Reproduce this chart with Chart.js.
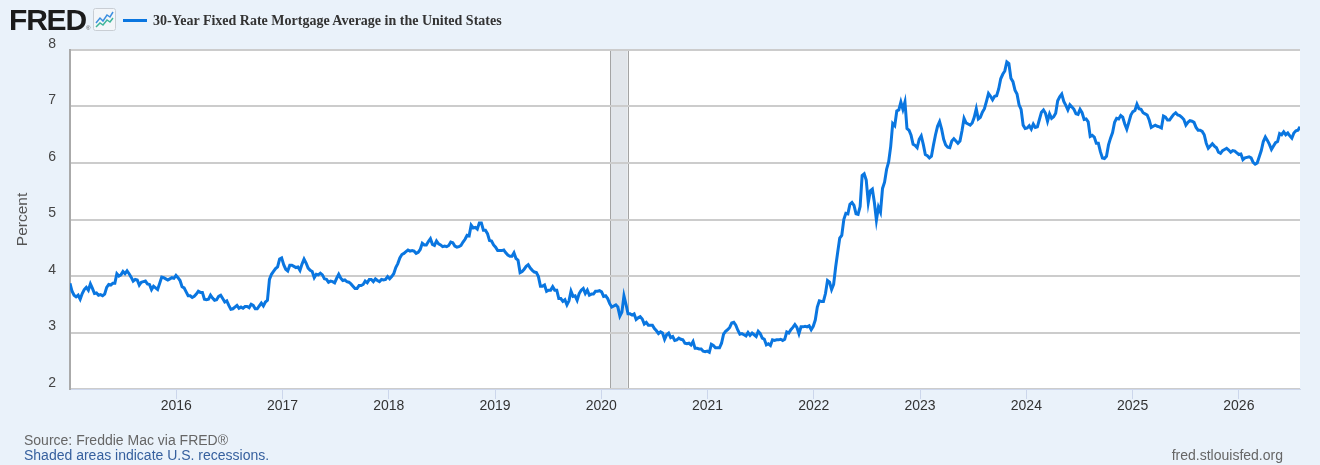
<!DOCTYPE html>
<html>
<head>
<meta charset="utf-8">
<title>30-Year Fixed Rate Mortgage Average in the United States</title>
<script src="https://cdn.jsdelivr.net/npm/chart.js@4.4.1/dist/chart.umd.min.js"></script>
<style>
  html, body { margin: 0; padding: 0; background: #eaf2fa; }
  body { width: 1320px; height: 465px; position: relative; overflow: hidden; font-family: "Liberation Sans", Arial, sans-serif; }
  #chart { position: absolute; left: 0; top: 0; }
  .logo { position: absolute; left: 9px; top: 5px; line-height: 30px; font-size: 30px; font-weight: bold; letter-spacing: -1.2px; color: #1b1b1b; }
  .logo sup { font-size: 6px; letter-spacing: 0; vertical-align: 0; font-weight: normal; color: #555; }
  .icon { position: absolute; left: 93px; top: 8px; }
  .swatch { position: absolute; left: 123px; top: 19px; width: 24px; height: 3px; background: #0a76e0; }
  .series { position: absolute; left: 153px; top: 13px; line-height: 16px; font-family: "Liberation Serif", "Times New Roman", serif; font-size: 14px; font-weight: bold; color: #333; }
  .note { position: absolute; left: 24px; line-height: 16px; font-size: 14px; color: #666; }
  .note.src { top: 432px; }
  .note.rec { top: 447px; color: #36609e; }
  .site { position: absolute; right: 37px; top: 447px; line-height: 16px; font-size: 14px; color: #666; }
</style>
</head>
<body>
<canvas id="chart" width="1320" height="465"></canvas>
<div class="logo">FRED<sup>®</sup></div>
<svg class="icon" width="23" height="23" viewBox="0 0 23 23">
  <rect x="0.5" y="0.5" width="22" height="22" rx="2" fill="#f3f6f9" stroke="#c9ced4"/>
  <polyline points="3,15 7,10 10,13 14,7 17,9 20,4" fill="none" stroke="#3d8fe0" stroke-width="1.5"/>
  <polyline points="3,19 7,15 10,17 14,12 17,14 20,10" fill="none" stroke="#3fb59a" stroke-width="1.5"/>
</svg>
<div class="swatch"></div>
<div class="series">30-Year Fixed Rate Mortgage Average in the United States</div>
<div class="note src">Source: Freddie Mac via FRED®</div>
<div class="note rec">Shaded areas indicate U.S. recessions.</div>
<div class="site">fred.stlouisfed.org</div>

<script>
// weekly readings, first Thursday of each year
const yearStarts = ['2015-01-01', '2016-01-07', '2017-01-05', '2018-01-04', '2019-01-03', '2020-01-02',
                    '2021-01-07', '2022-01-06', '2023-01-05', '2024-01-04', '2025-01-02', '2026-01-01'];

const rates2015 = [3.87, 3.73, 3.66, 3.63, 3.66, 3.59, 3.69, 3.76, 3.80, 3.75, 3.86, 3.78, 3.69,
  3.70, 3.66, 3.67, 3.65, 3.68, 3.80, 3.85, 3.84, 3.87, 3.87, 4.04, 4.00, 4.02,
  4.08, 4.04, 4.09, 4.04, 3.98, 3.91, 3.94, 3.93, 3.84, 3.89, 3.90, 3.91, 3.86,
  3.85, 3.76, 3.82, 3.79, 3.76, 3.87, 3.98, 3.97, 3.95, 3.93, 3.95, 3.97, 3.96, 4.01];
const rates2016 = [3.97, 3.92, 3.81, 3.79, 3.72, 3.65, 3.65, 3.62, 3.64, 3.68, 3.73, 3.71, 3.71,
  3.59, 3.58, 3.59, 3.66, 3.61, 3.57, 3.58, 3.64, 3.66, 3.60, 3.54, 3.56, 3.48,
  3.41, 3.42, 3.45, 3.48, 3.43, 3.45, 3.43, 3.46, 3.46, 3.44, 3.50, 3.48, 3.42,
  3.42, 3.47, 3.52, 3.47, 3.54, 3.57, 3.94, 4.03, 4.08, 4.13, 4.16, 4.30, 4.32];
const rates2017 = [4.20, 4.12, 4.09, 4.19, 4.19, 4.17, 4.15, 4.16, 4.10, 4.21, 4.30, 4.23, 4.14,
  4.10, 4.08, 3.97, 4.03, 4.02, 4.05, 4.02, 3.95, 3.94, 3.89, 3.91, 3.90, 3.88,
  3.96, 4.03, 3.96, 3.92, 3.93, 3.90, 3.89, 3.86, 3.82, 3.78, 3.78, 3.83, 3.83,
  3.85, 3.91, 3.88, 3.94, 3.94, 3.90, 3.95, 3.92, 3.90, 3.94, 3.93, 3.94, 3.99];
const rates2018 = [3.95, 3.99, 4.04, 4.15, 4.22, 4.32, 4.38, 4.40, 4.43, 4.46, 4.44, 4.45, 4.44,
  4.40, 4.42, 4.47, 4.58, 4.55, 4.55, 4.61, 4.66, 4.56, 4.54, 4.62, 4.57, 4.55,
  4.52, 4.53, 4.52, 4.54, 4.60, 4.59, 4.53, 4.51, 4.52, 4.54, 4.60, 4.65, 4.72,
  4.71, 4.90, 4.85, 4.86, 4.83, 4.94, 4.94, 4.81, 4.81, 4.75, 4.63, 4.62, 4.55];
const rates2019 = [4.51, 4.45, 4.45, 4.45, 4.46, 4.41, 4.37, 4.35, 4.35, 4.41, 4.31, 4.28, 4.06,
  4.08, 4.12, 4.17, 4.20, 4.14, 4.10, 4.07, 4.06, 3.99, 3.82, 3.82, 3.84, 3.73,
  3.75, 3.75, 3.81, 3.75, 3.75, 3.60, 3.60, 3.55, 3.58, 3.49, 3.56, 3.73, 3.64,
  3.65, 3.57, 3.69, 3.75, 3.78, 3.69, 3.75, 3.66, 3.68, 3.68, 3.73, 3.73, 3.74];
const rates2020 = [3.72, 3.64, 3.65, 3.60, 3.51, 3.45, 3.47, 3.49, 3.45, 3.29, 3.36, 3.65, 3.50,
  3.33, 3.33, 3.31, 3.33, 3.23, 3.26, 3.28, 3.24, 3.15, 3.18, 3.13, 3.13, 3.13,
  3.07, 3.03, 2.98, 3.01, 2.99, 2.88, 2.96, 2.99, 2.91, 2.93, 2.86, 2.87, 2.90,
  2.88, 2.87, 2.81, 2.80, 2.81, 2.78, 2.84, 2.72, 2.72, 2.71, 2.71, 2.67, 2.66, 2.67];
const rates2021 = [2.65, 2.79, 2.77, 2.73, 2.73, 2.73, 2.81, 2.97, 3.02, 3.05, 3.09, 3.17,
  3.18, 3.13, 3.04, 2.97, 2.98, 2.96, 2.94, 3.00, 2.95, 2.99, 2.96, 2.93, 3.02,
  2.98, 2.90, 2.88, 2.78, 2.80, 2.77, 2.87, 2.86, 2.87, 2.87, 2.88, 2.86, 2.88, 3.01,
  2.99, 3.05, 3.09, 3.14, 3.09, 2.98, 3.10, 3.10, 3.11, 3.10, 3.12, 3.05, 3.11];
const rates2022 = [3.22, 3.45, 3.56, 3.55, 3.55, 3.69, 3.92, 3.89, 3.76, 3.85, 4.16, 4.42, 4.67,
  4.72, 5.00, 5.11, 5.10, 5.27, 5.30, 5.25, 5.10, 5.09, 5.23, 5.78, 5.81, 5.70,
  5.30, 5.51, 5.54, 5.30, 4.99, 5.22, 5.13, 5.55, 5.66, 5.89, 6.02, 6.29, 6.70,
  6.66, 6.92, 6.94, 7.08, 6.95, 7.08, 6.61, 6.58, 6.49, 6.33, 6.31, 6.27, 6.42];
const rates2023 = [6.48, 6.33, 6.15, 6.13, 6.09, 6.12, 6.32, 6.50, 6.65, 6.73, 6.60, 6.42, 6.32,
  6.28, 6.27, 6.39, 6.43, 6.39, 6.35, 6.39, 6.57, 6.79, 6.71, 6.69, 6.67, 6.71,
  6.81, 6.96, 6.78, 6.81, 6.90, 6.96, 7.09, 7.23, 7.18, 7.12, 7.18, 7.19, 7.31,
  7.49, 7.57, 7.63, 7.79, 7.76, 7.50, 7.44, 7.29, 7.22, 7.03, 6.95, 6.67, 6.61];
const rates2024 = [6.62, 6.66, 6.60, 6.69, 6.63, 6.64, 6.77, 6.90, 6.94, 6.88, 6.74, 6.87, 6.79,
  6.82, 6.88, 7.10, 7.17, 7.22, 7.09, 7.02, 6.94, 7.03, 6.99, 6.95, 6.87, 6.86,
  6.95, 6.89, 6.77, 6.78, 6.73, 6.47, 6.49, 6.46, 6.35, 6.35, 6.20, 6.09, 6.08,
  6.12, 6.32, 6.44, 6.54, 6.72, 6.79, 6.78, 6.84, 6.81, 6.69, 6.60, 6.72, 6.85];
const rates2025 = [6.91, 6.93, 7.04, 6.96, 6.95, 6.89, 6.87, 6.85, 6.76, 6.63, 6.65, 6.67, 6.65,
  6.64, 6.62, 6.83, 6.81, 6.76, 6.76, 6.81, 6.86, 6.89, 6.85, 6.84, 6.81, 6.77,
  6.67, 6.72, 6.75, 6.74, 6.72, 6.63, 6.58, 6.58, 6.56, 6.50, 6.35, 6.26, 6.30,
  6.34, 6.30, 6.27, 6.19, 6.17, 6.22, 6.24, 6.26, 6.23, 6.19, 6.22, 6.21, 6.18];
const rates2026 = [6.15, 6.16, 6.06, 6.09, 6.10, 6.11, 6.09, 6.01, 5.98, 6.00, 6.11, 6.22, 6.38,
  6.46, 6.40, 6.33, 6.24, 6.30, 6.36, 6.38, 6.52, 6.50, 6.55, 6.50, 6.53, 6.48,
  6.44, 6.53, 6.57, 6.58, 6.64];

const yearRates = [rates2015, rates2016, rates2017, rates2018, rates2019, rates2020,
                   rates2021, rates2022, rates2023, rates2024, rates2025, rates2026];

const tickYears = [2016, 2017, 2018, 2019, 2020, 2021, 2022, 2023, 2024, 2025, 2026];
const yTicks = [2, 3, 4, 5, 6, 7, 8];
const recession = ['2020-02-01', '2020-04-01'];

const lineColor = '#0a76e0';
const DAY = 86400000;

// date -> fractional year, so the linear axis lines up with calendar years
function yearFraction(ms) {
    const d = new Date(ms);
    const y = d.getUTCFullYear();
    const a = Date.UTC(y, 0, 1), b = Date.UTC(y + 1, 0, 1);
    return y + (ms - a) / (b - a);
}

const points = [];
yearRates.forEach((rates, i) => {
    const start = Date.parse(yearStarts[i] + 'T00:00:00Z');
    rates.forEach((r, k) => points.push({ x: yearFraction(start + k * 7 * DAY), y: r }));
});

const xMin = 2015;
const xMax = points[points.length - 1].x;

// white plot area + recession band, under the grid
const backdrop = {
    id: 'backdrop',
    beforeDraw(chart) {
        const { ctx, chartArea: a, scales } = chart;
        ctx.save();
        ctx.fillStyle = '#ffffff';
        ctx.fillRect(a.left, a.top, a.right - a.left, a.bottom - a.top);
        const x0 = scales.x.getPixelForValue(yearFraction(Date.parse(recession[0] + 'T00:00:00Z')));
        const x1 = scales.x.getPixelForValue(yearFraction(Date.parse(recession[1] + 'T00:00:00Z')));
        ctx.fillStyle = '#e2e6eb';
        ctx.fillRect(x0, a.top, x1 - x0, a.bottom - a.top);
        ctx.strokeStyle = '#a4a4a4';
        ctx.lineWidth = 1;
        ctx.beginPath();
        ctx.moveTo(Math.round(x0) + 0.5, a.top); ctx.lineTo(Math.round(x0) + 0.5, a.bottom);
        ctx.moveTo(Math.round(x1) + 0.5, a.top); ctx.lineTo(Math.round(x1) + 0.5, a.bottom);
        ctx.stroke();
        ctx.restore();
    }
};

const font = { family: '"Liberation Sans", Arial, sans-serif', size: 14 };

new Chart(document.getElementById('chart').getContext('2d'), {
    type: 'line',
    data: {
        datasets: [{
            label: '30-Year Fixed Rate Mortgage Average in the United States',
            data: points,
            borderColor: lineColor,
            borderWidth: 3,
            pointRadius: 0,
            tension: 0,
            fill: false
        }]
    },
    options: {
        responsive: false,
        animation: false,
        devicePixelRatio: 1,
        layout: { padding: { left: 0, right: 20, top: 50, bottom: 0 } },
        plugins: { legend: { display: false }, tooltip: { enabled: false } },
        scales: {
            x: {
                type: 'linear',
                min: xMin,
                max: xMax,
                afterBuildTicks: s => { s.ticks = tickYears.map(v => ({ value: v })); },
                afterFit: s => { s.height = 76; },
                grid: { drawOnChartArea: false, drawTicks: true, tickLength: 10, color: '#ccd6eb', lineWidth: 1 },
                border: { display: true, color: '#ccd6eb', width: 1 },
                ticks: { color: '#333333', font: font, padding: -1, maxRotation: 0, autoSkip: false, callback: v => String(v) }
            },
            y: {
                min: 2,
                max: 8,
                afterBuildTicks: s => { s.ticks = yTicks.map(v => ({ value: v })); },
                afterFit: s => { s.width = 70; },
                grid: { color: '#cccccc', lineWidth: 2, drawTicks: false },
                border: { display: true, color: '#aaaaaa', width: 2 },
                ticks: { color: '#444444', font: font, padding: 14, labelOffset: -6 },
                title: { display: true, text: 'Percent', color: '#555555', font: { family: font.family, size: 15.5 }, padding: { top: 13, bottom: 0 } }
            }
        }
    },
    plugins: [backdrop]
});
</script>
</body>
</html>
